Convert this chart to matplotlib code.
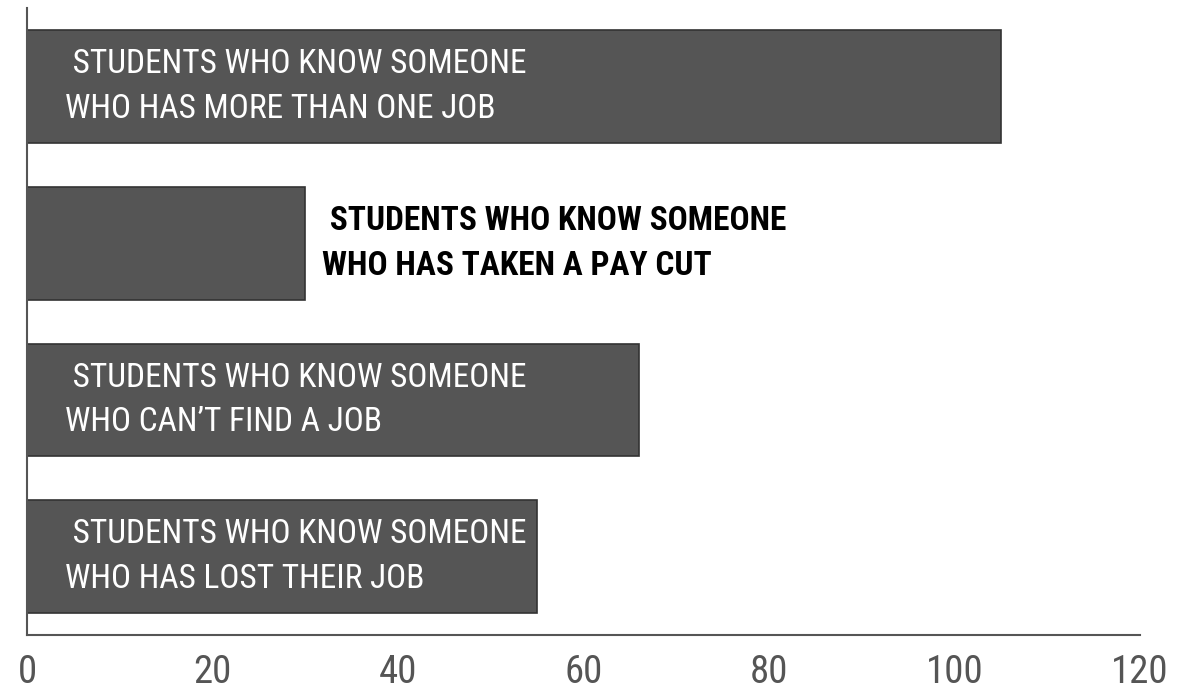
import matplotlib
matplotlib.use('Agg')
import matplotlib.pyplot as plt

plt.rcParams['font.family'] = ['Roboto Condensed', 'DejaVu Sans']

labels = [
    ' STUDENTS WHO KNOW SOMEONE\nWHO HAS LOST THEIR JOB',
    ' STUDENTS WHO KNOW SOMEONE\nWHO CAN\u2019T FIND A JOB',
    ' STUDENTS WHO KNOW SOMEONE\nWHO HAS TAKEN A PAY CUT',
    ' STUDENTS WHO KNOW SOMEONE\nWHO HAS MORE THAN ONE JOB',
]
values = [55, 66, 30, 105]
inside = [True, True, False, True]
xticks = [0, 20, 40, 60, 80, 100, 120]

fig = plt.figure(figsize=(11.92, 6.91), dpi=100)
ax = fig.add_axes([0.0227, 0.081, 0.9337, 0.907])

pos = list(range(len(values)))
ax.barh(pos, values, height=0.72, color='#555555', edgecolor='#333333', linewidth=1.2)

for p, v, lab, ins in zip(pos, values, labels, inside):
    if ins:
        ax.text(4.1, p, lab, color='white', fontsize=24, va='center', ha='left',
                linespacing=1.5)
    else:
        ax.text(v + 1.8, p, lab, color='black', fontsize=24, va='center', ha='left',
                fontweight='bold', linespacing=1.5)

ax.set_xlim(0, 120)
ax.set_ylim(-0.5, 3.5)
ax.set_xticks(xticks)
ax.set_xticklabels([str(t) for t in xticks])
ax.set_yticks([])
ax.tick_params(axis='x', length=0, pad=14, labelsize=28, labelcolor='#555555')
for s in ['top', 'right']:
    ax.spines[s].set_visible(False)
for s in ['left', 'bottom']:
    ax.spines[s].set_color('#555555')
    ax.spines[s].set_linewidth(1.5)

fig.savefig('out.png', dpi=100)
